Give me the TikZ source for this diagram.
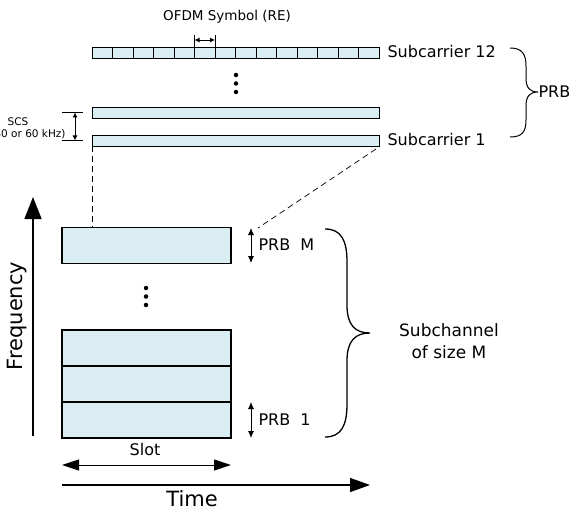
\documentclass[tikz,border=0pt]{standalone}
\usepackage{fontspec}
\setmainfont{DejaVu Sans}
\usetikzlibrary{arrows.meta}
\definecolor{cellblue}{HTML}{DAEDF3}
\tikzset{
  cell/.style={draw, fill=cellblue, line width=0.9pt, minimum width=20.5pt, minimum height=11pt, inner sep=0pt, outer sep=0pt},
  bar/.style={draw, fill=cellblue, line width=0.9pt, minimum width=287pt, minimum height=11pt, inner sep=0pt, outer sep=0pt},
  prbbox/.style={draw, fill=cellblue, line width=1.4pt, minimum width=169pt, minimum height=36pt, inner sep=0pt, outer sep=0pt},
  dot/.style={circle, fill, inner sep=0pt, minimum size=4.5pt},
  lab/.style={font=\fontsize{16}{19}\selectfont},
  biglab/.style={font=\fontsize{21}{25}\selectfont},
  tiny/.style={font=\fontsize{10.5}{12}\selectfont},
}
\begin{document}
\begin{tikzpicture}[x=1pt,y=-1pt]
  \useasboundingbox (0,0) rectangle (578,513);
  % resource elements of subcarrier 12
  \foreach \i in {0,...,13}
    \node[cell] (re\i) at ({102.25+20.5*\i},52.5) {};
  \node[bar] (sc2) at (235.5,112.5) {};
  \node[bar] (sc1) at (235.5,140.5) {};
  \node[lab, anchor=west] (sc12lab) at (384,52) {Subcarrier 12};
  \node[lab, anchor=west] (sc1lab) at (384,140) {Subcarrier 1};
  \node[dot] (dt1) at (236,75) {};
  \node[dot] (dt2) at (236,83.5) {};
  \node[dot] (dt3) at (236,92) {};
  % OFDM symbol
  \node[font=\fontsize{13.5}{16}\selectfont] (ofdm) at (227,17) {OFDM Symbol (RE)};
  \coordinate (syl) at (194.5,40);
  \coordinate (syr) at (215,40);
  \draw[line width=0.8pt] (re5.north west) -- ++(0,-12);
  \draw[line width=0.8pt] (re5.north east) -- ++(0,-12);
  \draw[line width=0.8pt, {Latex[length=5pt,width=5pt]}-{Latex[length=5pt,width=5pt]}] (syl) -- (syr);
  % subcarrier spacing
  \coordinate (scsT) at (75,112.5);
  \coordinate (scsB) at (75,140.5);
  \draw[line width=0.8pt] (62,112.5) -- (83,112.5);
  \draw[line width=0.8pt] (62,140.5) -- (83,140.5);
  \draw[line width=0.8pt, {Latex[length=5pt,width=5pt]}-{Latex[length=5pt,width=5pt]}] (scsT) -- (scsB);
  \node[tiny, align=center] (scs) at (18,128.5) {SCS\\(15, 30 or 60 kHz)};
  % PRB brace
  \draw[line width=1pt] (510,48) .. controls (522,48) and (526,54) .. (526,66)
    -- (526,78) .. controls (526,88) and (530,92) .. (538,92)
    .. controls (530,92) and (526,96) .. (526,106) -- (526,120)
    .. controls (526,132) and (522,137) .. (510,137);
  \node[lab, anchor=west] (prb) at (535,92) {PRB};
  % subchannel
  \node[prbbox] (prbM) at (146.5,245.5) {};
  \node[dot] (dt4) at (146,288) {};
  \node[dot] (dt5) at (146,296.5) {};
  \node[dot] (dt6) at (146,305) {};
  \node[prbbox] (prb3) at (146.5,348) {};
  \node[prbbox] (prb2) at (146.5,384) {};
  \node[prbbox] (prb1) at (146.5,420) {};
  \coordinate (dR) at (258,228);
  \coordinate (dL) at (376,149);
  \draw[line width=0.7pt, dash pattern=on 6pt off 4pt] (sc1.south west) -- (sc1.south west |- prbM.north);
  \draw[line width=0.7pt, dash pattern=on 6pt off 4pt] (dL) -- (dR);
  \coordinate (pMt) at (251,228);
  \coordinate (pMb) at (251,263);
  \coordinate (p1t) at (251,402);
  \coordinate (p1b) at (251,438);
  \draw[line width=0.8pt, {Latex[length=7pt,width=6pt]}-{Latex[length=7pt,width=6pt]}] (pMt) -- (pMb);
  \draw[line width=0.8pt, {Latex[length=7pt,width=6pt]}-{Latex[length=7pt,width=6pt]}] (p1t) -- (p1b);
  \node[lab, anchor=west] (prbMlab) at (255,245) {PRB\ \ M};
  \node[lab, anchor=west] (prb1lab) at (255,420) {PRB\ \ 1};
  \draw[line width=1.3pt] (325,229) .. controls (341,229) and (347,240) .. (347,262)
    -- (347,305) .. controls (347,325) and (355,333) .. (370,333)
    .. controls (355,333) and (347,341) .. (347,361) -- (347,404)
    .. controls (347,426) and (341,437) .. (325,437);
  \node[font=\fontsize{17}{22}\selectfont, align=center] (subch) at (449,341) {Subchannel\\of size M};
  % axes
  \coordinate (fb) at (33,436);
  \coordinate (ft) at (33,197);
  \draw[line width=1.4pt, -{Triangle[length=22pt,width=17pt]}] (fb) -- (ft);
  \node[biglab, rotate=90] (freq) at (17,316) {Frequency};
  \coordinate (sl) at (62,465);
  \coordinate (sr) at (231,465);
  \draw[line width=1pt, {Triangle[length=17pt,width=11pt]}-{Triangle[length=17pt,width=11pt]}] (sl) -- (sr);
  \node[lab] (slot) at (145,450) {Slot};
  \coordinate (tl) at (62,485);
  \coordinate (tr) at (370,485);
  \draw[line width=1.4pt, -{Triangle[length=20pt,width=14pt]}] (tl) -- (tr);
  \node[biglab] (time) at (192,499) {Time};
\end{tikzpicture}
\end{document}
